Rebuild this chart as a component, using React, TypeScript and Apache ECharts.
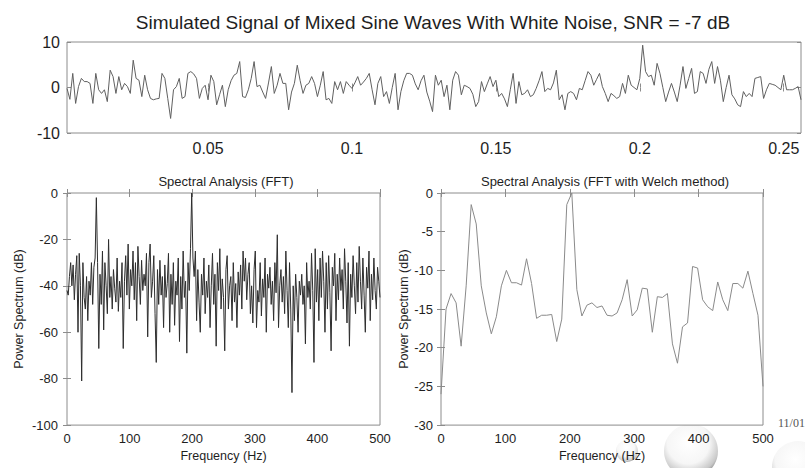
import React, { useEffect, useRef } from "react";
import * as echarts from "echarts";

// Time-domain signal (256 samples at 1000 Hz)
const sampleRate = 1000;
const signal = [
  -0.2, -2.6, 3.1, -3.5, 0.2, 2.0, 1.3, 1.3, 0.9, -3.5, 3.1, -0.5, -1.3, -0.5, -3.1, 3.8,
  2.4, -1.3, 2.4, -0.5, 0.9, 0.2, -1.3, 6.0, 2.0, 1.6, -2.0, 2.7, -0.5, -2.4, -2.7, -2.5,
  -2.4, 3.1, 2.0, -2.4, -6.8, -0.5, 0.2, 2.0, -2.4, -2.0, 3.1, 3.5, 3.0, 2.0, -2.4, -0.2,
  0.5, -2.7, 2.7, 1.3, -3.8, -1.6, 0.5, -4.2, -0.5, 1.5, 2.7, 3.1, 5.7, -2.0, -2.2, -0.5,
  2.0, 5.7, 0.2, 0.5, -1.0, -2.4, 1.0, 4.6, -1.3, 0.5, 3.1, 0.9, 0.9, -4.9, -1.0, 0.9,
  4.9, 1.5, -1.3, 0.5, 0.9, 2.4, 0.9, -2.0, 0.5, 3.5, -2.7, -2.4, -3.5, 1.3, -0.5, 1.3,
  -1.3, 1.3, 0.5, -0.2, 1.0, 2.4, 0.5, 1.2, 2.0, 3.1, -0.5, -3.8, 0.9, 2.4, -2.0, -0.9,
  -3.5, 0.0, 3.1, -4.9, -0.9, 1.5, 3.1, 3.1, 2.7, 0.8, -0.5, 1.5, 2.7, -1.0, -3.0, -5.3,
  2.7, 0.5, 1.6, -2.0, 0.5, -4.9, 1.6, 3.5, 2.7, -1.6, 0.5, 0.2, -0.2, -1.5, -4.2, -3.1,
  1.3, -0.9, 0.8, 2.4, 0.2, 1.6, -2.0, -1.3, -2.5, -4.2, -0.5, 3.1, -3.5, 1.3, -1.6, -1.3,
  -0.5, -2.0, -1.6, -0.2, 1.5, 3.5, -0.9, -0.2, -0.5, 1.0, 3.8, -2.7, -1.6, -4.9, -1.3, -0.9,
  -1.3, -2.7, -0.2, -0.5, 1.5, 3.5, 2.7, 0.5, 1.8, 3.1, 0.2, -1.3, -3.1, -1.3, -1.8, -2.4,
  -2.0, 0.9, -1.3, 2.7, 0.5, 0.0, -0.5, 2.0, 9.3, 3.5, 2.4, 2.7, 0.5, 5.3, 3.1, 0.0,
  -3.1, -1.0, 0.9, -1.0, -3.1, 0.5, 4.6, -0.2, 2.0, 4.2, -1.3, -0.9, 3.5, 3.1, 0.9, 4.0,
  5.7, 0.9, 4.6, 1.6, -3.1, 0.0, 2.7, -1.6, -2.5, -3.8, -4.2, -0.9, -2.0, -1.3, -2.0, 2.0,
  2.2, 2.4, -2.4, -0.5, 0.9, 0.7, 0.5, 0.0, -0.5, 2.7, -0.5, -0.5, -0.5, -0.2, 0.2, -2.7,
];
const timeTicks = [0.05, 0.1, 0.15, 0.2, 0.25];

// FFT power spectrum (dB), 257 bins from 0 to 500 Hz
const fftPower = [
  -42, -44, -36, -30, -40, -31, -46, -35, -27, -60, -26, -40, -81, -30, -45, -50,
  -36, -55, -38, -44, -30, -48, -32, -28, -2, -30, -67, -35, -48, -25, -59, -30,
  -40, -52, -20, -45, -36, -50, -33, -41, -47, -28, -51, -38, -45, -30, -67, -38,
  -27, -44, -22, -50, -33, -40, -25, -46, -30, -55, -23, -36, -48, -29, -42, -35,
  -40, -26, -62, -30, -22, -45, -38, -27, -52, -73, -33, -48, -29, -44, -36, -58,
  -31, -45, -39, -26, -60, -35, -48, -30, -57, -38, -44, -28, -64, -36, -50, -25,
  -45, -38, -69, -30, -42, -24, 0, -28, -36, -25, -55, -33, -47, -60, -35, -44,
  -28, -52, -38, -45, -31, -58, -40, -26, -48, -35, -66, -30, -42, -24, -50, -37,
  -45, -68, -33, -27, -50, -40, -36, -55, -30, -47, -39, -58, -34, -44, -31, -50,
  -25, -38, -28, -46, -35, -30, -52, -40, -56, -33, -25, -58, -42, -47, -30, -53,
  -37, -45, -28, -60, -35, -41, -32, -48, -38, -55, -30, -43, -18, -58, -40, -33,
  -47, -36, -52, -25, -42, -58, -30, -50, -86, -40, -55, -35, -45, -60, -38, -44,
  -35, -48, -40, -65, -30, -45, -38, -50, -26, -42, -73, -24, -47, -33, -55, -28,
  -45, -25, -38, -60, -30, -50, -27, -43, -68, -32, -40, -26, -55, -35, -46, -28,
  -42, -33, -50, -24, -38, -56, -30, -66, -35, -45, -27, -40, -52, -30, -47, -23,
  -38, -50, -28, -44, -60, -32, -41, -25, -55, -35, -46, -28, -42, -50, -32, -38, -45,
];
const fftStepHz = 500 / (fftPower.length - 1);

// Welch power spectrum (dB), 65 bins from 0 to 500 Hz
const welchPower = [
  -26, -15, -13, -14.2, -19.8, -12, -1.5, -4, -12, -15.5, -18.2, -16, -12, -10, -11.6, -11.6,
  -11.9, -8.5, -11.7, -16.2, -15.8, -15.8, -15.7, -19.2, -16.3, -1.5, 0, -12.5, -15.9, -14.5, -14.2, -14.8,
  -14.6, -15.8, -15.9, -15.5, -13.8, -11.2, -15.9, -15.1, -12.3, -12.4, -18, -13.4, -13.5, -13, -19.5, -22,
  -17.3, -16.8, -9.5, -9.7, -13.8, -14.7, -15.2, -11.5, -13.8, -15.2, -11.7, -11.7, -12.3, -10.1, -13, -15.8,
  -25,
];
const welchStepHz = 500 / (welchPower.length - 1);

const mainTitle = "Simulated Signal of Mixed Sine Waves With White Noise, SNR = -7 dB";
const fftTitle = "Spectral Analysis (FFT)";
const welchTitle = "Spectral Analysis (FFT with Welch method)";
const freqName = "Frequency (Hz)";
const powerName = "Power Spectrum (dB)";
const dateText = "11/01";

const FONT = "'Liberation Sans', Arial, Helvetica, sans-serif";
const FRAME = "#8c8c8c";
const TEXT = "#1e1e1e";

function mirrorAxis(gridIndex: number, position: string, extra: any = {}) {
  return {
    gridIndex,
    type: "value",
    position,
    axisLine: { show: false },
    splitLine: { show: false },
    axisLabel: { show: false },
    axisTick: { show: true, inside: true, length: 4, lineStyle: { color: FRAME } },
    ...extra,
  };
}

export default function App() {
  const ref = useRef<HTMLDivElement>(null);

  useEffect(() => {
    if (!ref.current) return;
    const chart = echarts.init(ref.current, null, { renderer: "svg" });

    const gridBase = { show: true, borderColor: FRAME, borderWidth: 1, backgroundColor: "#fff" };
    const tickStyle = { show: true, inside: true, length: 4, lineStyle: { color: FRAME } };
    const smallLabel = { color: TEXT, fontSize: 13, fontFamily: FONT, margin: 7 };
    const bigLabel = { color: TEXT, fontSize: 16, fontFamily: FONT, margin: 7 };
    const nameStyle = { color: TEXT, fontSize: 12.5, fontFamily: FONT };

    const bubble = (cx: number, cy: number, r: number, op: number) => ({
      type: "circle",
      shape: { cx, cy, r },
      z: -10,
      style: {
        fill: {
          type: "radial",
          x: 0.45,
          y: 0.35,
          r: 0.65,
          colorStops: [
            { offset: 0, color: "#ffffff" },
            { offset: 0.6, color: "#f6f6f6" },
            { offset: 0.9, color: "#c8c8c8" },
            { offset: 1, color: "#9a9a9a" },
          ],
        },
        opacity: op,
      },
    });

    chart.setOption({
      animation: false,
      backgroundColor: "#ffffff",
      title: [
        {
          text: mainTitle,
          left: 428,
          top: 8,
          textAlign: "center",
          textStyle: { color: TEXT, fontSize: 19, fontWeight: "normal", fontFamily: FONT },
        },
        {
          text: fftTitle,
          left: 221,
          top: 170,
          textAlign: "center",
          textStyle: { color: TEXT, fontSize: 13, fontWeight: "normal", fontFamily: FONT },
        },
        {
          text: welchTitle,
          left: 600,
          top: 170,
          textAlign: "center",
          textStyle: { color: TEXT, fontSize: 13, fontWeight: "normal", fontFamily: FONT },
        },
      ],
      grid: [
        { ...gridBase, left: 67, top: 42, width: 734, height: 91 },
        { ...gridBase, left: 67, top: 193, width: 313, height: 236 },
        { ...gridBase, left: 441, top: 193, width: 322, height: 236 },
      ],
      xAxis: [
        {
          gridIndex: 0,
          type: "value",
          min: 0.001,
          max: 0.256,
          axisLine: { show: false },
          splitLine: { show: false },
          axisTick: { ...tickStyle, customValues: timeTicks },
          axisLabel: { ...bigLabel, customValues: timeTicks },
        },
        mirrorAxis(0, "top", { min: 0.001, max: 0.256, axisTick: { ...tickStyle, customValues: timeTicks } }),
        {
          gridIndex: 1,
          type: "value",
          min: 0,
          max: 500,
          interval: 100,
          name: freqName,
          nameLocation: "middle",
          nameGap: 24,
          nameTextStyle: nameStyle,
          axisLine: { show: false },
          splitLine: { show: false },
          axisTick: tickStyle,
          axisLabel: smallLabel,
        },
        mirrorAxis(1, "top", { min: 0, max: 500, interval: 100 }),
        {
          gridIndex: 2,
          type: "value",
          min: 0,
          max: 500,
          interval: 100,
          name: freqName,
          nameLocation: "middle",
          nameGap: 24,
          nameTextStyle: nameStyle,
          axisLine: { show: false },
          splitLine: { show: false },
          axisTick: tickStyle,
          axisLabel: smallLabel,
        },
        mirrorAxis(2, "top", { min: 0, max: 500, interval: 100 }),
      ],
      yAxis: [
        {
          gridIndex: 0,
          type: "value",
          min: -10,
          max: 10,
          interval: 10,
          axisLine: { show: false },
          splitLine: { show: false },
          axisTick: tickStyle,
          axisLabel: bigLabel,
        },
        mirrorAxis(0, "right", { min: -10, max: 10, interval: 10 }),
        {
          gridIndex: 1,
          type: "value",
          min: -100,
          max: 0,
          interval: 20,
          name: powerName,
          nameLocation: "middle",
          nameGap: 42,
          nameTextStyle: nameStyle,
          axisLine: { show: false },
          splitLine: { show: false },
          axisTick: tickStyle,
          axisLabel: { ...smallLabel, margin: 9 },
        },
        mirrorAxis(1, "right", { min: -100, max: 0, interval: 20 }),
        {
          gridIndex: 2,
          type: "value",
          min: -30,
          max: 0,
          interval: 5,
          name: powerName,
          nameLocation: "middle",
          nameGap: 31,
          nameTextStyle: nameStyle,
          axisLine: { show: false },
          splitLine: { show: false },
          axisTick: tickStyle,
          axisLabel: { ...smallLabel, margin: 8 },
        },
        mirrorAxis(2, "right", { min: -30, max: 0, interval: 5 }),
      ],
      series: [
        {
          type: "line",
          xAxisIndex: 0,
          yAxisIndex: 0,
          data: signal.map((v, i) => [(i + 1) / sampleRate, v]),
          showSymbol: false,
          lineStyle: { color: "#606060", width: 1 },
        },
        {
          type: "line",
          xAxisIndex: 2,
          yAxisIndex: 2,
          data: fftPower.map((v, i) => [i * fftStepHz, v]),
          showSymbol: false,
          lineStyle: { color: "#2e2e2e", width: 1 },
        },
        {
          type: "line",
          xAxisIndex: 4,
          yAxisIndex: 4,
          data: welchPower.map((v, i) => [i * welchStepHz, v]),
          showSymbol: false,
          lineStyle: { color: "#8a8a8a", width: 1 },
        },
      ],
      graphic: [
        bubble(627, 451, 11, 0.85),
        bubble(691, 451, 27, 1),
        bubble(798, 467, 26, 1),
        {
          type: "text",
          x: 778,
          y: 417,
          style: {
            text: dateText,
            fill: "#555",
            font: "12px 'Liberation Serif', 'Times New Roman', serif",
          },
        },
      ],
    });

    return () => chart.dispose();
  }, []);

  return <div ref={ref} style={{ width: 805, height: 468, position: "absolute", left: 0, top: 0 }} />;
}
